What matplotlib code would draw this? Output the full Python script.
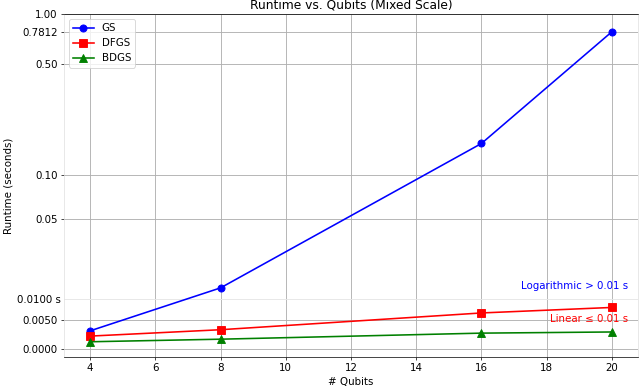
import numpy as np
import matplotlib
matplotlib.use("Agg")
import matplotlib.pyplot as plt

# Data
qubits = [4, 8, 16, 20]
gs_runtime = [0.0029, 0.0133, 0.160, 0.7812]
dfgs_runtime = [0.0020, 0.0031, 0.0065, 0.0078]
bdgs_runtime = [0.0011, 0.0015, 0.0025, 0.0027]

ytick_values = [0.0, 0.005, 0.05, 0.10, 0.50, 0.7812, 1.00]
ytick_labels = ["0.0000", "0.0050", "0.05", "0.10", "0.50", "0.7812", "1.00"]
threshold = 0.01
threshold_label = "0.0100 s"


def fwd(y):
    y = np.asarray(y, dtype=float)
    return np.log10(np.maximum(y + threshold, 1e-12))


def inv(x):
    x = np.asarray(x, dtype=float)
    return 10.0 ** x - threshold


fig = plt.figure(figsize=(10, 390 / 64), dpi=64)
ax = fig.add_axes([64 / 640, 1 - 357 / 390, (638 - 64) / 640, (357 - 14) / 390])

ax.plot(qubits, gs_runtime, color="blue", marker="o", markersize=8, linewidth=1.8, label="GS")
ax.plot(qubits, dfgs_runtime, color="red", marker="s", markersize=8, linewidth=1.8, label="DFGS")
ax.plot(qubits, bdgs_runtime, color="green", marker="^", markersize=8, linewidth=1.8, label="BDGS")

ax.set_yscale("function", functions=(fwd, inv))
ax.set_ylim(-0.001, 1.0)
ax.set_xticks(np.arange(4, 21, 2))

ax.set_yticks(ytick_values)
ax.set_yticklabels(ytick_labels)
ax.set_yticks([threshold], minor=True)
ax.set_yticklabels([threshold_label], minor=True)
ax.tick_params(axis="y", which="minor", length=0, labelsize=11.5)
ax.tick_params(axis="both", which="major", labelsize=11.5)

ax.grid(True, which="major", color="#b0b0b0", linewidth=1.0)
ax.grid(True, which="minor", axis="y", color="#e6e6e6", linewidth=1.0)
ax.set_axisbelow(True)

for side in ["left", "right"]:
    ax.spines[side].set_color("#e0e0e0")
for side in ["top", "bottom"]:
    ax.spines[side].set_color("black")

ax.set_title("Runtime vs. Qubits (Mixed Scale)", fontsize=13.8)
ax.set_xlabel("# Qubits", fontsize=11.5)
ax.set_ylabel("Runtime (seconds)", fontsize=11.5)

ax.text(0.983, 0.207, "Logarithmic > 0.01 s", color="blue", fontsize=11.5,
        ha="right", va="center", transform=ax.transAxes)
ax.text(0.983, 0.111, "Linear \u2264 0.01 s", color="red", fontsize=11.5,
        ha="right", va="center", transform=ax.transAxes)

ax.legend(loc="upper left", fontsize=11.5)

fig.savefig("out.png", dpi=64)
